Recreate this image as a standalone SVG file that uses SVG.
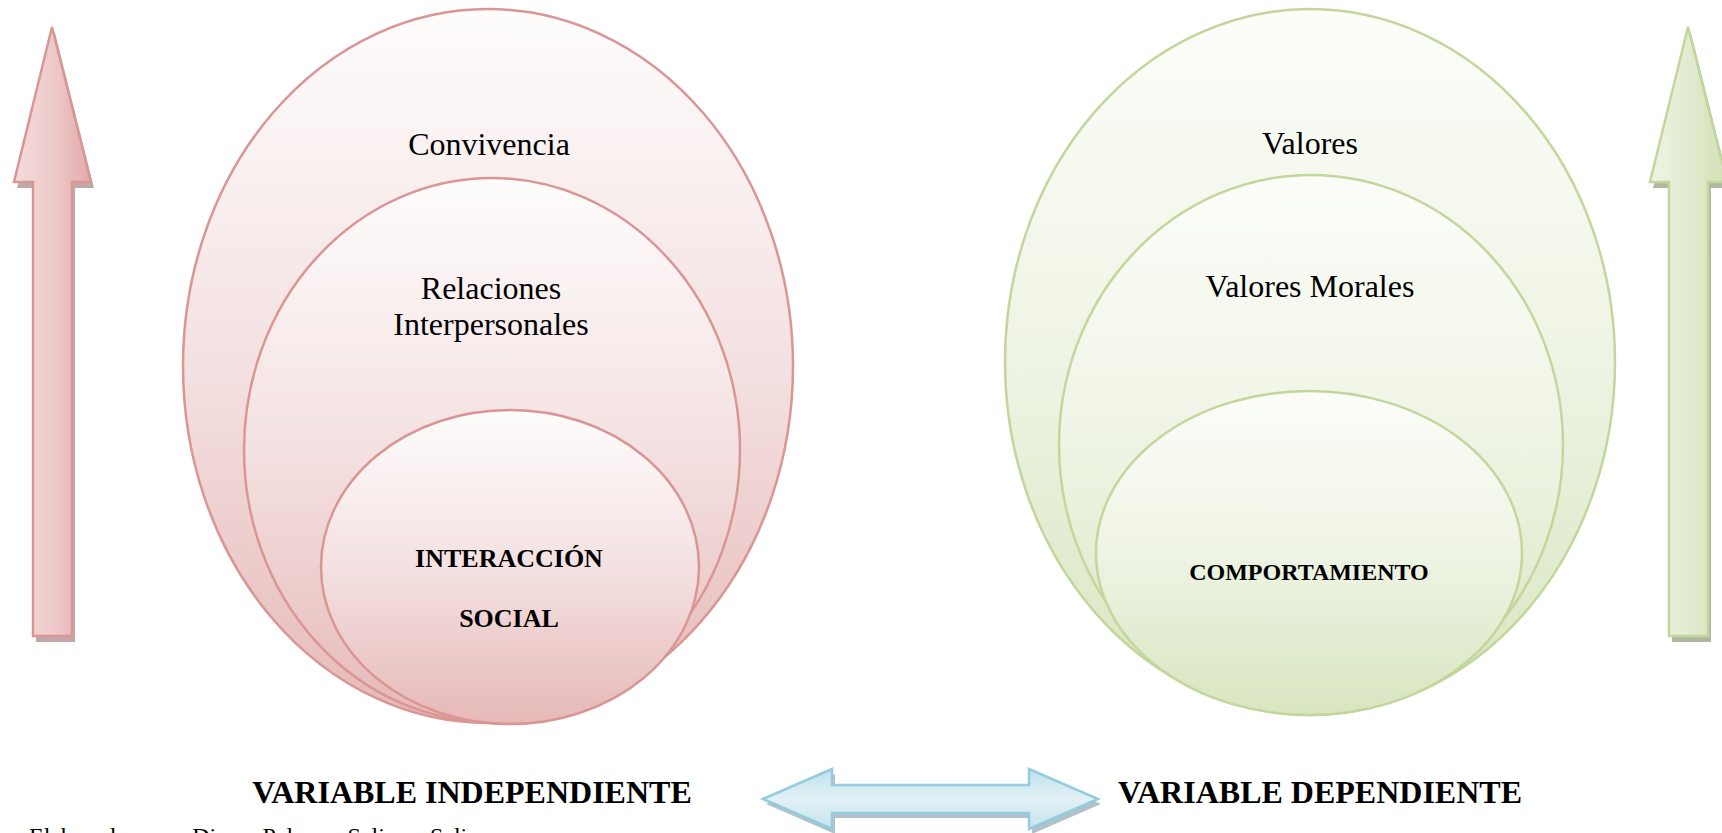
<svg xmlns="http://www.w3.org/2000/svg" width="1722" height="833" viewBox="0 0 1722 833">
<style>
.t{font-family:"Liberation Serif","Times New Roman",serif;fill:#000;text-anchor:middle}
.r{font-size:32px}
.b{font-weight:bold}
.pk{stroke:#d99694;stroke-width:2.5}
.gr{stroke:#c3d69b;stroke-width:2.5}
</style>
<defs>
<linearGradient id="gPink" x1="0" y1="0" x2="0" y2="1">
<stop offset="0" stop-color="#fefcfc"/>
<stop offset="0.5" stop-color="#f4e1e1"/>
<stop offset="1" stop-color="#e6b9b8"/>
</linearGradient>
<linearGradient id="gGreen" x1="0" y1="0" x2="0" y2="1">
<stop offset="0" stop-color="#fcfdf9"/>
<stop offset="0.5" stop-color="#eef4e4"/>
<stop offset="1" stop-color="#d9e5c0"/>
</linearGradient>
<linearGradient id="aPink" x1="0" y1="0" x2="1" y2="0">
<stop offset="0" stop-color="#f4dcdc"/>
<stop offset="0.5" stop-color="#eecaca"/>
<stop offset="1" stop-color="#e3aaaa"/>
</linearGradient>
<linearGradient id="aGreen" x1="0" y1="0" x2="1" y2="0">
<stop offset="0" stop-color="#eef4e4"/>
<stop offset="0.5" stop-color="#e2ebd0"/>
<stop offset="1" stop-color="#d2e0b5"/>
</linearGradient>
<linearGradient id="aBlue" x1="0" y1="0" x2="0" y2="1">
<stop offset="0" stop-color="#bfe1eb"/>
<stop offset="0.5" stop-color="#e2f1f6"/>
<stop offset="1" stop-color="#c3e3ec"/>
</linearGradient>
</defs>

<g id="arrow-left">
<path d="M52,27 L91,182 L72,182 L72,636 L33,636 L33,182 L14,182 Z" transform="translate(3,6)" fill="#a88484" opacity="0.7"/>
<path d="M52,27 L91,182 L72,182 L72,636 L33,636 L33,182 L14,182 Z" fill="url(#aPink)" stroke="#d99694" stroke-width="2.5"/>
</g>

<g id="arrow-right">
<path d="M1688,27 L1727,182 L1708,182 L1708,636 L1669,636 L1669,182 L1650,182 Z" transform="translate(3,6)" fill="#8f9a7a" opacity="0.7"/>
<path d="M1688,27 L1727,182 L1708,182 L1708,636 L1669,636 L1669,182 L1650,182 Z" fill="url(#aGreen)" stroke="#c3d69b" stroke-width="2.5"/>
</g>

<g id="convivencia">
<ellipse cx="488" cy="366" rx="305" ry="357" fill="url(#gPink)" class="pk"/>
<text class="t r" x="489" y="155">Convivencia</text>
</g>
<g id="relaciones">
<ellipse cx="492" cy="450" rx="248" ry="272" fill="url(#gPink)" class="pk"/>
<text class="t r" x="491" y="299">Relaciones</text>
<text class="t r" x="491" y="335">Interpersonales</text>
</g>
<g id="interaccion">
<ellipse cx="510" cy="567" rx="189" ry="157" fill="url(#gPink)" class="pk"/>
<text class="t b" font-size="26" x="509" y="567">INTERACCIÓN</text>
<text class="t b" font-size="26" x="509" y="627">SOCIAL</text>
</g>

<g id="valores">
<ellipse cx="1310" cy="362" rx="305" ry="353" fill="url(#gGreen)" class="gr"/>
<text class="t r" x="1310" y="154">Valores</text>
</g>
<g id="valores-morales">
<ellipse cx="1311" cy="445" rx="252" ry="270" fill="url(#gGreen)" class="gr"/>
<text class="t r" x="1310" y="297">Valores Morales</text>
</g>
<g id="comportamiento">
<ellipse cx="1309" cy="553" rx="213" ry="162" fill="url(#gGreen)" class="gr"/>
<text class="t b" font-size="24" x="1309" y="580">COMPORTAMIENTO</text>
</g>

<g id="connectors">
<path d="M763,799 L832,769 L832,785 L1029,785 L1029,769 L1098,799 L1029,829 L1029,813 L832,813 L832,829 Z" transform="translate(3,5)" fill="#7f9aa3" opacity="0.6"/>
<path d="M763,799 L832,769 L832,785 L1029,785 L1029,769 L1098,799 L1029,829 L1029,813 L832,813 L832,829 Z" fill="url(#aBlue)" stroke="#93cddd" stroke-width="2.5"/>
</g>

<g id="labels">
<text class="t b r" x="472" y="803">VARIABLE INDEPENDIENTE</text>
<text class="t b r" x="1320" y="803">VARIABLE DEPENDIENTE</text>
<text class="t" font-size="24" x="29" y="844" style="text-anchor:start" word-spacing="7">Elaborado por: Diana Paloma Salinas Salinas</text>
</g>
</svg>
